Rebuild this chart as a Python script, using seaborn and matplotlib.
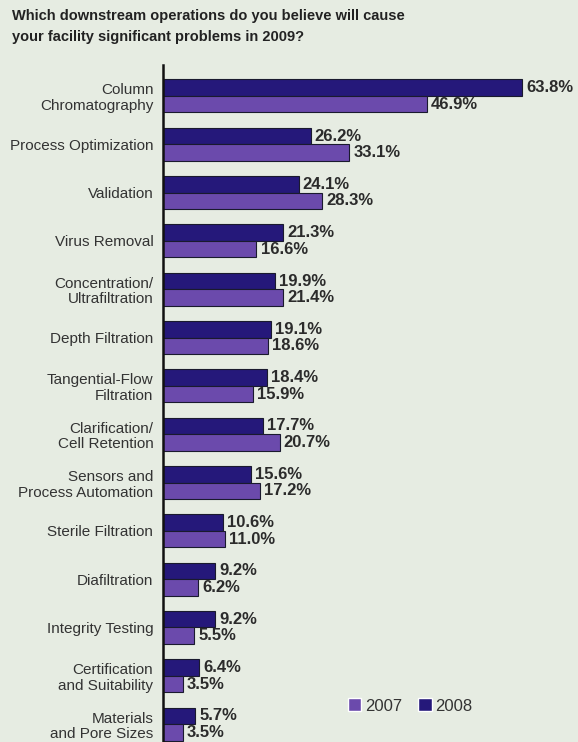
import pandas as pd
import numpy as np
import matplotlib
matplotlib.use("Agg")
import matplotlib.pyplot as plt
import seaborn as sns
from matplotlib.patches import Patch

# Data
categories = [
    "Column\nChromatography",
    "Process Optimization",
    "Validation",
    "Virus Removal",
    "Concentration/\nUltrafiltration",
    "Depth Filtration",
    "Tangential-Flow\nFiltration",
    "Clarification/\nCell Retention",
    "Sensors and\nProcess Automation",
    "Sterile Filtration",
    "Diafiltration",
    "Integrity Testing",
    "Certification\nand Suitability",
    "Materials\nand Pore Sizes",
]
values_2008 = [63.8, 26.2, 24.1, 21.3, 19.9, 19.1, 18.4, 17.7, 15.6, 10.6, 9.2, 9.2, 6.4, 5.7]
values_2007 = [46.9, 33.1, 28.3, 16.6, 21.4, 18.6, 15.9, 20.7, 17.2, 11.0, 6.2, 5.5, 3.5, 3.5]
years = ["2008", "2007"]

df = pd.DataFrame({
    "operation": categories * 2,
    "year": [years[0]] * len(categories) + [years[1]] * len(categories),
    "pct": values_2008 + values_2007,
})

bg = "#e6ece2"
colors = {"2008": "#25187a", "2007": "#6b4aac"}
txt = "#2b2b2b"

sns.set_style("white")
plt.rcParams["font.family"] = ["Liberation Sans", "DejaVu Sans"]

fig = plt.figure(figsize=(5.78, 7.42), dpi=100, facecolor=bg)
ax = fig.add_axes([163 / 578, 0, 1 - 163 / 578, 677 / 742])
ax.set_facecolor(bg)

sns.barplot(data=df, y="operation", x="pct", hue="year", hue_order=years,
            order=categories, palette=colors, orient="h", width=0.68,
            edgecolor="#1a1a2e", linewidth=0.8, saturation=1, legend=False, ax=ax)

for cont in ax.containers:
    ax.bar_label(cont, fmt="%.1f%%", padding=3, fontsize=12, fontweight="bold", color=txt)

ax.set_xlim(0, (578 - 163) / 5.63)
ax.set_ylim(13.37, -0.64)
ax.set_xlabel("")
ax.set_ylabel("")
ax.set_xticks([])
ax.tick_params(axis="y", length=0, pad=7, labelsize=11, labelcolor="#333333")
for lbl in ax.get_yticklabels():
    lbl.set_horizontalalignment("right")
    lbl.set_multialignment("right")
    lbl.set_linespacing(1.15)

for side in ["top", "right", "bottom"]:
    ax.spines[side].set_visible(False)
ax.spines["left"].set_color("#111111")
ax.spines["left"].set_linewidth(1.8)

handles = [Patch(facecolor=colors["2007"], label="2007"),
           Patch(facecolor=colors["2008"], label="2008")]
fig.legend(handles=handles, loc="center left", bbox_to_anchor=(333 / 578, 1 - 706 / 742),
           ncol=2, frameon=False, fontsize=12, handlelength=0.8, handleheight=0.8,
           handletextpad=0.2, columnspacing=1.0, labelcolor="#333333")

fig.text(12 / 578, 1 - 9 / 742,
         "Which downstream operations do you believe will cause\nyour facility significant problems in 2009?",
         ha="left", va="top", fontsize=10.5, fontweight="bold", color="#222222", linespacing=1.6)

plt.savefig("out.png", dpi=100, facecolor=bg)
